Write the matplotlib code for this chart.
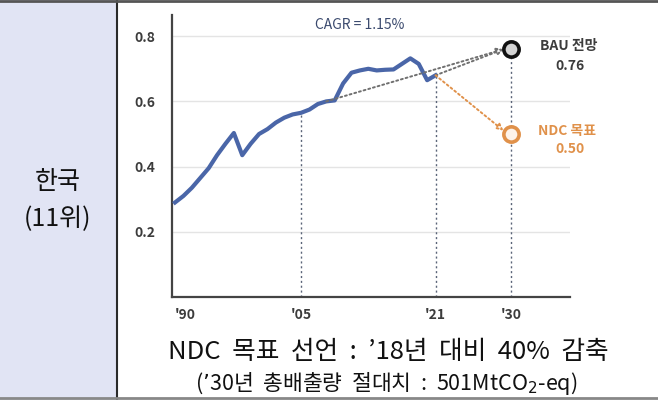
import matplotlib.pyplot as plt
from matplotlib.patches import Rectangle

plt.rcParams['font.family'] = ['Noto Sans CJK KR', 'DejaVu Sans']

# Emissions (GtCO2-eq)
years = list(range(1990, 2022))
emissions = [0.29, 0.31, 0.335, 0.365, 0.395, 0.435, 0.47, 0.503,
             0.435, 0.47, 0.50, 0.515, 0.535, 0.55, 0.56, 0.565,
             0.575, 0.592, 0.60, 0.603, 0.655, 0.688, 0.695, 0.70,
             0.695, 0.697, 0.698, 0.715, 0.732, 0.715, 0.665, 0.68]
trend_start_year = 2008
target_year = 2030
bau_value = 0.76
ndc_value = 0.50
guide_years = [2005, 2021]
tick_years = [1990, 2005, 2021, 2030]
tick_labels = ["'90", "'05", "'21", "'30"]
y_ticks = [0.2, 0.4, 0.6, 0.8]

LINE_BLUE = '#4a66a8'
ORANGE = '#e0914a'
DARK = '#3c3c3c'
GUIDE = '#5a6478'

fig = plt.figure(figsize=(6.58, 4.0), dpi=100)

# left header cell
fig.patches.append(Rectangle((0, 0), 117 / 658, 1, transform=fig.transFigure,
                             facecolor='#e1e4f4', edgecolor='none', zorder=0))
fig.add_artist(plt.Line2D([117 / 658, 117 / 658], [0, 1], color='#2a2a2a', lw=1.5))
fig.add_artist(plt.Line2D([0, 1], [0.997, 0.997], color='#555555', lw=2))
fig.add_artist(plt.Line2D([0, 1], [0.004, 0.004], color='#888888', lw=2))
fig.text(58 / 658, 1 - 182 / 400, '한국', ha='center', va='center', fontsize=18,
         fontweight='medium', color='#111111')
fig.text(58 / 658, 1 - 219 / 400, '(11위)', ha='center', va='center', fontsize=18,
         fontweight='medium', color='#111111')

ax = fig.add_axes([172 / 658, 1 - 297 / 400, 398 / 658, 282 / 400])
ax.set_xlim(1989.64, 2037.0)
ax.set_ylim(0, 0.865)

for s in ['top', 'right']:
    ax.spines[s].set_visible(False)
for s in ['left', 'bottom']:
    ax.spines[s].set_color('#444444')
    ax.spines[s].set_linewidth(1.6)

ax.set_yticks(y_ticks)
ax.set_yticklabels([f'{v:.1f}' for v in y_ticks], fontsize=10, fontweight='bold', color=DARK)
ax.set_xticks(tick_years)
ax.set_xticklabels(tick_labels, fontsize=10, fontweight='bold', color=DARK)
ax.get_xticklabels()[0].set_ha('left')
ax.tick_params(length=0, pad=8)
ax.tick_params(axis='y', pad=12)
ax.grid(axis='y', color='#e4e4e4', lw=1)
ax.set_axisbelow(True)

# guide lines
for yr in guide_years:
    ax.plot([yr, yr], [0, emissions[years.index(yr)]], ls=(0, (1.5, 2)), color=GUIDE, lw=1)
ax.plot([target_year, target_year], [0, bau_value], ls=(0, (1.5, 2)), color=GUIDE, lw=1)

ax.plot(years, emissions, color=LINE_BLUE, lw=3, solid_joinstyle='round', zorder=3)

# projections
start_val = emissions[years.index(trend_start_year)]
end_val = emissions[-1]
ax.annotate('', xy=(target_year - 0.9, bau_value), xytext=(trend_start_year, start_val),
            arrowprops=dict(arrowstyle='-|>', ls=(0, (1, 1.5)), color='#707070', lw=1.4,
                            fc='white', shrinkA=0, shrinkB=0))
ax.annotate('', xy=(target_year - 0.9, bau_value), xytext=(years[-1], end_val),
            arrowprops=dict(arrowstyle='-|>', ls=(0, (1, 1.5)), color='#707070', lw=1.4,
                            fc='white', shrinkA=0, shrinkB=0))
ax.annotate('', xy=(target_year - 0.9, ndc_value + 0.01), xytext=(years[-1], end_val),
            arrowprops=dict(arrowstyle='-|>', ls=(0, (1, 1.5)), color=ORANGE, lw=1.4,
                            fc='white', shrinkA=0, shrinkB=0))

ax.plot([target_year], [bau_value], 'o', ms=11, mfc='#d4d4d4', mec='#111111', mew=2.6, zorder=5)
ax.plot([target_year], [ndc_value], 'o', ms=11, mfc='#fdf3ea', mec=ORANGE, mew=2.6, zorder=5)

ax.text(target_year + 3.4, bau_value + 0.01, 'BAU 전망', fontsize=10, fontweight='bold', color=DARK, va='center')
ax.text(target_year + 7.0, bau_value - 0.05, f'{bau_value:.2f}', fontsize=10, fontweight='bold',
        color=DARK, ha='center', va='center')
ax.text(target_year + 3.2, ndc_value + 0.01, 'NDC 목표', fontsize=10, fontweight='bold', color=ORANGE, va='center')
ax.text(target_year + 7.0, ndc_value - 0.045, f'{ndc_value:.2f}', fontsize=10, fontweight='bold',
        color=ORANGE, ha='center', va='center')

ax.text(2012.0, 0.835, 'CAGR = 1.15%', fontsize=10, color='#3b4a6e', ha='center', va='center')

fig.text(388 / 658, 1 - 352 / 400, 'NDC  목표  선언  :  ’18년  대비  40%  감축', ha='center', va='center',
         fontsize=18.5, color='#111111')
fig.text(386 / 658, 1 - 383 / 400, '(’30년  총배출량  절대치  :  501MtCO$_2$-eq)', ha='center', va='center',
         fontsize=15.5, color='#111111')

fig.savefig('out.png', dpi=100)
